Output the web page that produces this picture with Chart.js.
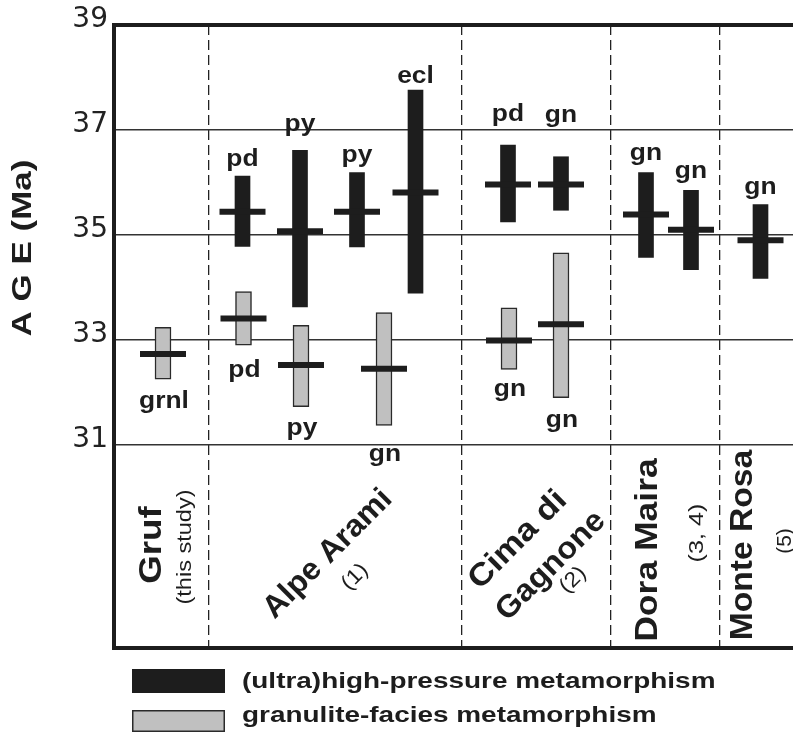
<!DOCTYPE html>
<html>
<head>
<meta charset="utf-8">
<title>Age of metamorphism</title>
<script src="https://cdn.jsdelivr.net/npm/chart.js"></script>
<style>
  body { margin: 0; background: #fff; }
  canvas { display: block; }
</style>
</head>
<body>
<canvas id="myChart" width="793" height="734"></canvas>
<script>
// localities along the x axis and their references
var groups = ['Gruf', 'Alpe Arami', 'Cima di Gagnone', 'Dora Maira', 'Monte Rosa'];
var groupRefs = ['(this study)', '(1)', '(2)', '(3, 4)', '(5)'];
var groupDividers = [1.886, 6.954, 9.934, 12.106];

// (ultra)high-pressure ages, Ma
var hpPos  = [2.57, 3.72, 4.86, 6.03, 7.88, 8.94, 10.64, 11.54, 12.93];
var hpMin  = [34.78, 33.63, 34.77, 33.89, 35.25, 35.47, 34.57, 34.34, 34.17];
var hpMax  = [36.12, 36.61, 36.19, 37.76, 36.71, 36.49, 36.19, 35.85, 35.58];
var hpAge  = [35.44, 35.07, 35.44, 35.81, 35.96, 35.96, 35.39, 35.10, 34.90];
var hpRock = ['pd', 'py', 'py', 'ecl', 'pd', 'gn', 'gn', 'gn', 'gn'];

// granulite-facies ages, Ma
var grPos  = [0.98, 2.59, 3.74, 5.40, 7.90, 8.94];
var grMin  = [32.25, 32.90, 31.73, 31.37, 32.44, 31.90];
var grMax  = [33.24, 33.92, 33.28, 33.52, 33.61, 34.66];
var grAge  = [32.73, 33.41, 32.52, 32.45, 32.99, 33.30];
var grRock = ['grnl', 'pd', 'py', 'gn', 'gn', 'gn'];

var yTicks = [31, 33, 35, 37, 39];
var legendLabels = ['(ultra)high-pressure metamorphism', 'granulite-facies metamorphism'];

// label gaps in px (above black bars, below grey bars)
var hpGap = [10, 19, 10, 7, 24, 35, 12, 12, 10];
var grGap = [29, 32, 28, 36, 27, 29];

var BLACK = '#1d1d1d';
var GREY = '#c0c0c0';
var FONT = '"Liberation Sans", Arial, sans-serif';

function put(ctx, s, x, y, size, bold, sx, angle, align, base) {
    ctx.save();
    ctx.translate(x, y);
    ctx.rotate((angle || 0) * Math.PI / 180);
    ctx.scale(sx || 1, 1);
    ctx.font = (bold ? 'bold ' : '') + size + 'px ' + FONT;
    ctx.textAlign = align || 'center';
    ctx.textBaseline = base || 'middle';
    ctx.fillText(s, 0, 0);
    ctx.restore();
}

var overlay = {
    id: 'overlay',
    afterDraw: function (chart) {
        var ctx = chart.ctx, xs = chart.scales.x, ys = chart.scales.y, a = chart.chartArea;
        ctx.save();
        ctx.fillStyle = BLACK;

        // rock type labels
        hpRock.forEach(function (r, i) {
            put(ctx, r, xs.getPixelForValue(hpPos[i]), ys.getPixelForValue(hpMax[i]) - hpGap[i], 24, true, 1.1, 0, 'center', 'alphabetic');
        });
        grRock.forEach(function (r, i) {
            put(ctx, r, xs.getPixelForValue(grPos[i]) + 1, ys.getPixelForValue(grMin[i]) + grGap[i], 24, true, 1.1, 0, 'center', 'alphabetic');
        });

        // locality names
        put(ctx, groups[0], 152, 545, 32, true, 1.15, -90);
        put(ctx, groupRefs[0], 185, 547, 21, false, 1.12, -90);
        put(ctx, groups[1], 328, 554, 31, true, 1.03, -45);
        put(ctx, groupRefs[1], 355, 577, 21, false, 1.1, -45);
        var cg = groups[2].split(' ');
        put(ctx, cg[0] + ' ' + cg[1], 518, 540, 31, true, 1.12, -45);
        put(ctx, cg[2], 551, 566, 31, true, 1.05, -45);
        put(ctx, groupRefs[2], 573, 580, 21, false, 1.1, -45);
        put(ctx, groups[3], 648, 550, 32, true, 1.11, -90);
        put(ctx, groupRefs[3], 697, 533, 21, false, 1.2, -90);
        put(ctx, groups[4], 743, 545, 32, true, 1.05, -90);
        put(ctx, groupRefs[4], 785, 541, 21, false, 1.0, -90);

        // axis title
        put(ctx, 'A G E (Ma)', 23, 248, 28, true, 1.25, -90);

        // frame
        ctx.strokeStyle = BLACK;
        ctx.lineWidth = 4;
        ctx.beginPath();
        ctx.moveTo(chart.width, a.top);
        ctx.lineTo(a.left, a.top);
        ctx.lineTo(a.left, a.bottom);
        ctx.lineTo(chart.width, a.bottom);
        ctx.stroke();

        // legend
        ctx.fillStyle = BLACK;
        ctx.fillRect(132, 669, 93, 24);
        ctx.fillStyle = GREY;
        ctx.fillRect(132, 710, 93, 22);
        ctx.lineWidth = 1.5;
        ctx.strokeStyle = '#2a2a2a';
        ctx.strokeRect(132.75, 710.75, 91.5, 20.5);
        ctx.fillStyle = BLACK;
        put(ctx, legendLabels[0], 242, 688, 22, true, 1.27, 0, 'left', 'alphabetic');
        put(ctx, legendLabels[1], 242, 722, 22, true, 1.27, 0, 'left', 'alphabetic');
        ctx.restore();
    }
};

var hpBars = hpPos.map(function (x, i) { return { x: x, y: [hpMin[i], hpMax[i]] }; });
var grBars = grPos.map(function (x, i) { return { x: x, y: [grMin[i], grMax[i]] }; });
var ages = hpPos.map(function (x, i) { return { x: x, y: hpAge[i] }; })
    .concat(grPos.map(function (x, i) { return { x: x, y: grAge[i] }; }));

var ctx = document.getElementById('myChart').getContext('2d');
var chart = new Chart(ctx, {
    type: 'bar',
    data: {
        datasets: [{
            type: 'scatter',
            data: ages,
            pointStyle: 'line',
            pointRadius: 23,
            pointBorderWidth: 6,
            pointBorderColor: BLACK,
            order: 0
        }, {
            label: legendLabels[0],
            data: hpBars,
            backgroundColor: BLACK,
            barThickness: 15,
            grouped: false,
            order: 1
        }, {
            label: legendLabels[1],
            data: grBars,
            backgroundColor: GREY,
            borderColor: '#2a2a2a',
            borderWidth: 1.5,
            borderSkipped: false,
            barThickness: 16,
            grouped: false,
            order: 1
        }]
    },
    options: {
        responsive: false,
        animation: false,
        events: [],
        layout: { autoPadding: false, padding: { left: 0, right: 0, top: 25, bottom: 86 } },
        plugins: { legend: { display: false }, tooltip: { enabled: false } },
        scales: {
            x: {
                type: 'linear',
                min: 0,
                max: 13.58,
                offset: false,
                afterBuildTicks: function (s) { s.ticks = groupDividers.map(function (v) { return { value: v }; }); },
                afterFit: function (s) { s.height = 0; },
                ticks: { display: false },
                grid: { color: '#222', lineWidth: 1.3, drawTicks: false, offset: false },
                border: { display: false, dash: [10, 5] }
            },
            y: {
                min: 27.13,
                max: 39,
                afterBuildTicks: function (s) { s.ticks = yTicks.map(function (v) { return { value: v }; }); },
                afterFit: function (s) { s.width = 114; },
                ticks: { font: { size: 28, family: 'DejaVu Sans' }, color: '#222', padding: 6, labelOffset: -5 },
                grid: { color: '#333', lineWidth: 1.5, drawTicks: false },
                border: { display: false }
            }
        }
    },
    plugins: [overlay]
});
</script>
</body>
</html>
